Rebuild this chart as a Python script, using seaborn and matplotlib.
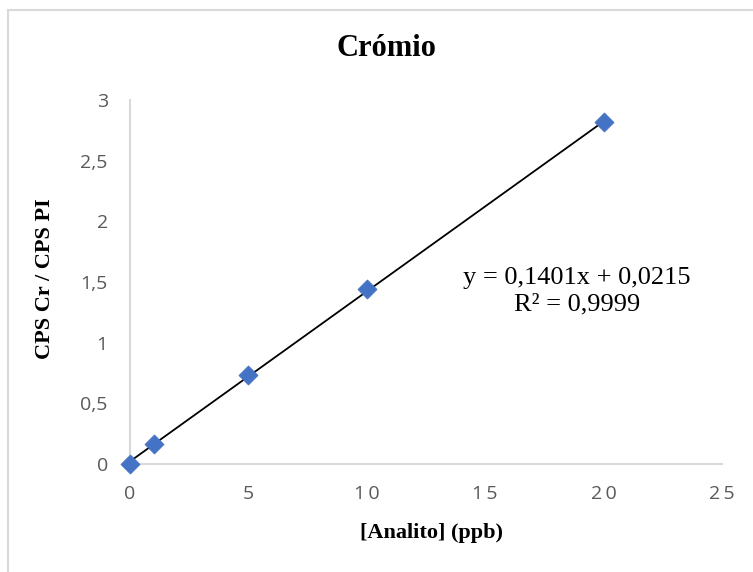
import numpy as np
import pandas as pd
import matplotlib
matplotlib.use("Agg")
import matplotlib.pyplot as plt
from matplotlib.patches import Rectangle
import seaborn as sns

# Calibration data for chromium
concentration = [0, 1, 5, 10, 20]
ratio = [0.0, 0.165, 0.735, 1.443, 2.82]

# Linear trend line as reported on the chart
slope = 0.1401
intercept = 0.0215
r_squared = 0.9999

x_ticks = [0, 5, 10, 15, 20, 25]
y_ticks = [0, 0.5, 1, 1.5, 2, 2.5, 3]
y_tick_labels = ["0", "0,5", "1", "1,5", "2", "2,5", "3"]

sns.set_theme(style="white")
plt.rcParams["font.family"] = ["Liberation Serif", "DejaVu Sans"]

fig = plt.figure(figsize=(7.53, 5.72), dpi=100)
ax = fig.add_axes([130 / 753, 1 - 464 / 572, 592 / 753, 364 / 572])

df = pd.DataFrame({"x": concentration, "y": ratio})

# trend line across the data range
xl = np.array([min(concentration), max(concentration)])
sns.lineplot(x=xl, y=slope * xl + intercept, ax=ax, color="black",
             linewidth=1.3, zorder=2)

sns.scatterplot(data=df, x="x", y="y", ax=ax, marker="D", s=95,
                color="#4472C4", edgecolor="#4472C4", linewidth=0.5, zorder=3,
                clip_on=False)

tick_font = ["Open Sans", "DejaVu Sans"]
ax.set_xlim(0, 25)
ax.set_ylim(0, 3)
ax.set_xticks(x_ticks)
ax.set_yticks(y_ticks)
# slightly spaced digits on the category axis
ax.set_xticklabels(["\u2009".join(str(t)) for t in x_ticks],
                   fontfamily=tick_font, fontsize=14, color="#595959")
ax.set_yticklabels(y_tick_labels, fontfamily=tick_font, fontsize=14,
                   color="#595959")
ax.tick_params(axis="both", length=0)
ax.tick_params(axis="x", pad=15)
ax.tick_params(axis="y", pad=16)

for side in ["top", "right"]:
    ax.spines[side].set_visible(False)
for side in ["left", "bottom"]:
    ax.spines[side].set_color("#D9D9D9")
    ax.spines[side].set_linewidth(1.5)

ax.set_xlabel("[Analito] (ppb)", fontsize=16, fontweight="bold",
              color="black", va="center")
ax.xaxis.set_label_coords((432 - 130) / 592, (464 - 533) / 364)
ax.set_ylabel("CPS Cr / CPS PI", fontsize=16, fontweight="bold",
              color="black", va="center")
ax.yaxis.set_label_coords((45 - 130) / 592, (464 - 279) / 364)

fig.text(386 / 753, 1 - 49 / 572, "Crómio", ha="center", va="center",
         fontsize=22, fontweight="bold", color="black")

ax.text(0.755, 0.511, f"y = {slope:.4f}x + {intercept:.4f}".replace(".", ","),
        transform=ax.transAxes, ha="center", va="center", fontsize=19,
        color="black")
ax.text(0.755, 0.437, f"R² = {r_squared:.4f}".replace(".", ","),
        transform=ax.transAxes, ha="center", va="center", fontsize=19,
        color="black")

# chart area frame
fig.patches.append(Rectangle((8 / 753, -0.05), 1.0, 1 - 10 / 572 + 0.05,
                             transform=fig.transFigure, fill=False,
                             edgecolor="#D9D9D9", linewidth=1.5))

fig.savefig("out.png", dpi=100, facecolor="white")
